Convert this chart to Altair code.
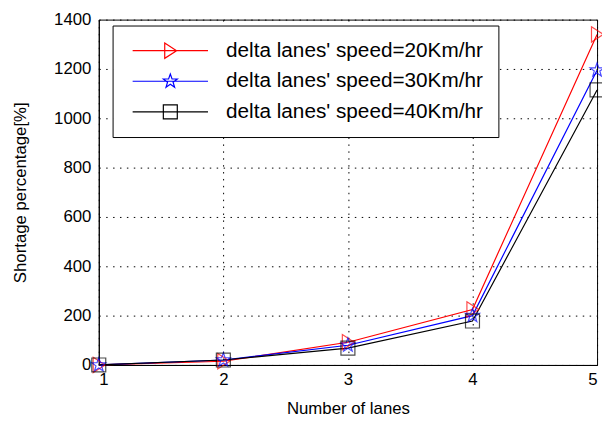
import altair as alt
import pandas as pd

lanes = [1, 2, 3, 4, 5]
series = ["delta lanes' speed=20Km/hr", "delta lanes' speed=30Km/hr", "delta lanes' speed=40Km/hr"]
speed20 = [0, 15, 92, 225, 1340]
speed30 = [0, 20, 80, 200, 1195]
speed40 = [0, 20, 68, 178, 1115]
colors = ["#ff0000", "#0000ff", "#000000"]
y_ticks = [0, 200, 400, 600, 800, 1000, 1200, 1400]

rows = []
for name, vals in zip(series, [speed20, speed30, speed40]):
    for x, v in zip(lanes, vals):
        rows.append({"lanes": x, "value": v, "series": name})
df = pd.DataFrame(rows)

# marker shapes (custom symbol paths)
tri = "M-0.8,-1.1L0.9,0L-0.8,1.1Z"
star = ("M0,-1.05L0.247,-0.34L0.999,-0.324L0.399,0.13L0.617,0.849L0,0.42"
        "L-0.617,0.849L-0.399,0.13L-0.999,-0.324L-0.247,-0.34Z")
sq = "M-1,-1H1V1H-1Z"
markers = [tri, star, sq]
leg_line = "M-5.4,0H5.4"
legend_shapes = [leg_line + m for m in markers]

FONT = "Liberation Sans"

xenc = alt.X("lanes:Q", scale=alt.Scale(domain=[1, 5], nice=False, zero=False),
             axis=alt.Axis(values=lanes, format="d", title="Number of lanes",
                           grid=True, ticks=False, labelPadding=7, titlePadding=13))
yenc = alt.Y("value:Q", scale=alt.Scale(domain=[0, 1400], nice=False),
             axis=alt.Axis(values=y_ticks, format="d", title="Shortage percentage[%]",
                           grid=True, ticks=False, labelPadding=8, titlePadding=24))

base = alt.Chart(df)

layers = []
for name, col in zip(series, colors):
    layers.append(
        base.transform_filter(alt.datum.series == name)
        .mark_line(strokeWidth=1.2, color=col)
        .encode(x=xenc, y=yenc)
    )
for name, col, m in zip(series, colors, markers):
    layers.append(
        base.transform_filter(alt.datum.series == name)
        .mark_point(shape=m, size=200, filled=False, color=col, strokeWidth=1.2, clip=False)
        .encode(x=xenc, y=yenc)
    )

leg = alt.Legend(orient="none", legendX=14, legendY=6, title=None,
                 strokeColor="black", fillColor="white", padding=15,
                 symbolSize=200, symbolStrokeWidth=1.2, symbolOpacity=1,
                 symbolOffset=33, labelOffset=46, rowPadding=9, labelLimit=500,
                 labelFont=FONT, labelFontSize=21, labelColor="black",
                 cornerRadius=0)

legend_layer = base.mark_point(filled=False, size=200, opacity=0).encode(
    x=xenc, y=yenc,
    color=alt.Color("series:N", scale=alt.Scale(domain=series, range=colors), legend=leg),
    shape=alt.Shape("series:N", scale=alt.Scale(domain=series, range=legend_shapes),
                    legend=leg),
)
layers.append(legend_layer)

chart = alt.layer(*layers).properties(
    width=505, height=350,
    autosize=alt.AutoSizeParams(type="none"),
    padding={"left": 92, "top": 9, "right": 5, "bottom": 52},
    background="white",
).configure_view(
    stroke="black", strokeWidth=1
).configure_axis(
    labelFont=FONT, titleFont=FONT, labelFontSize=17, titleFontSize=17,
    titleFontWeight="normal", labelColor="black", titleColor="black",
    domainColor="black", domainWidth=1, gridColor="black", gridDash=[1.5, 5.5],
    gridWidth=1, gridOpacity=1,
)

chart.save("out.html", embed_options={"renderer": "svg", "actions": False})
